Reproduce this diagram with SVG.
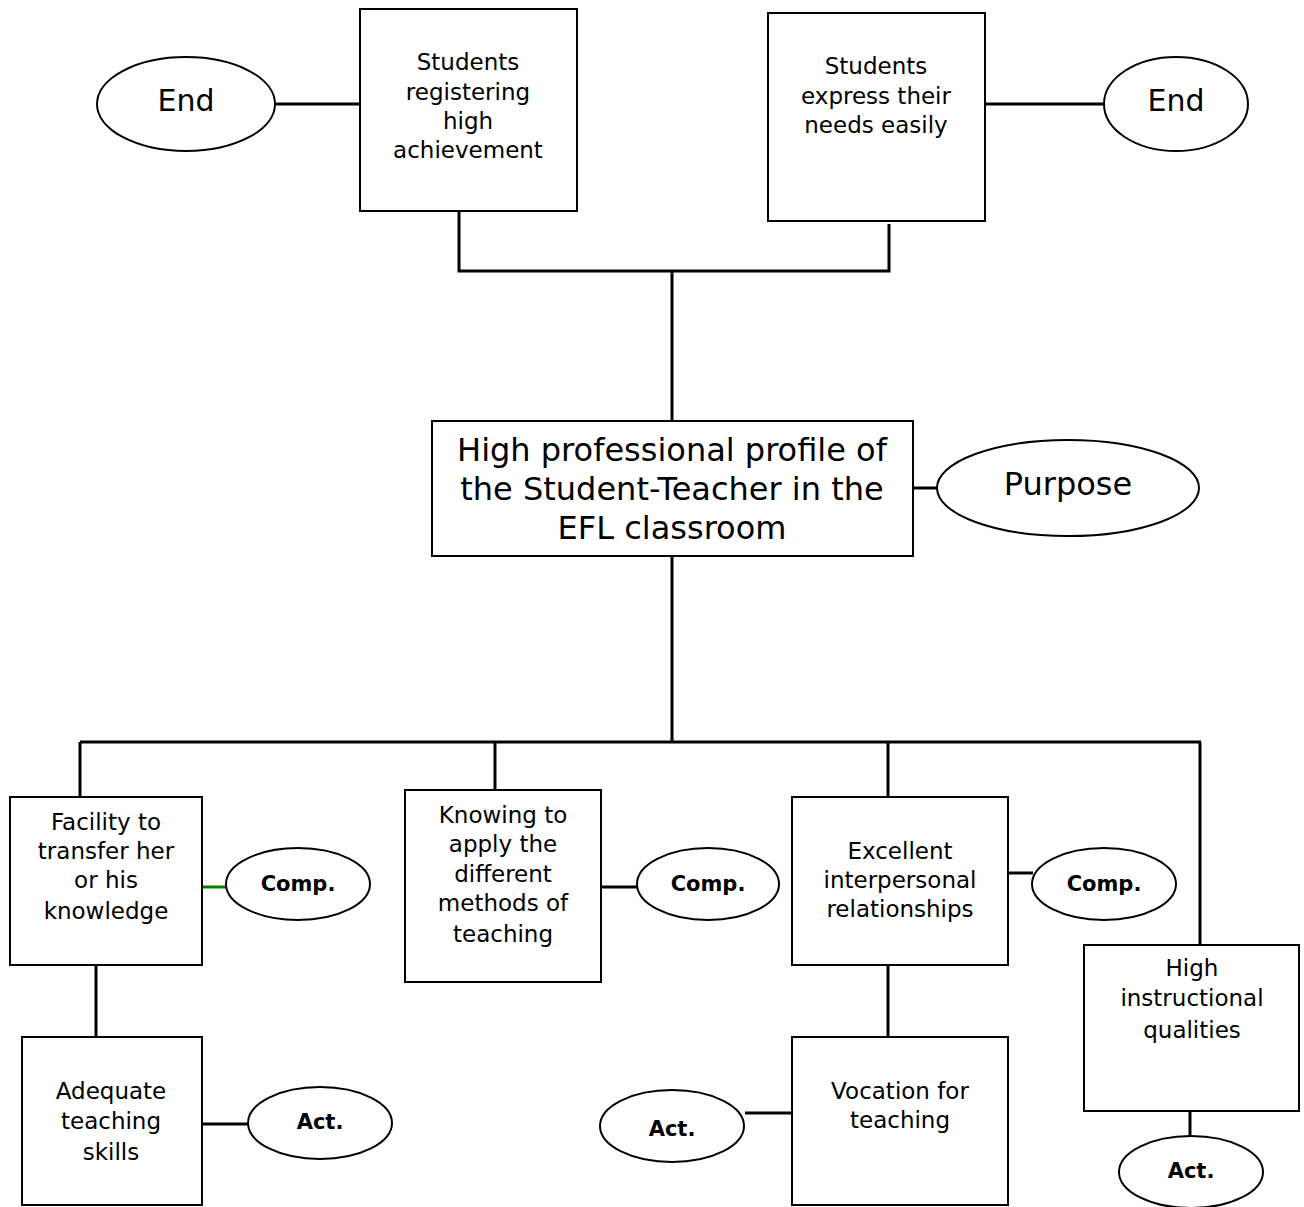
<svg xmlns="http://www.w3.org/2000/svg" width="1304" height="1207" viewBox="0 0 1304 1207">
<style>
.box{fill:#fff;stroke:#000;stroke-width:2}
.ell{fill:#fff;stroke:#000;stroke-width:2}
.ln{fill:none;stroke:#000;stroke-width:3}
.t{font-family:"DejaVu Sans",Verdana,sans-serif;font-size:23px;text-anchor:middle;fill:#000}
.big{font-size:32px}
.end{font-size:30px}
.lab{font-size:21px;font-weight:bold}
</style>
<rect width="1304" height="1207" fill="#fff"/>
<g id="connectors">
<line class="ln" x1="276" y1="104" x2="360" y2="104"/>
<line class="ln" x1="985" y1="104" x2="1104" y2="104"/>
<polyline class="ln" points="459,212 459,271 889,271 889,224"/>
<line class="ln" x1="672" y1="271" x2="672" y2="421"/>
<line class="ln" x1="913" y1="488" x2="937" y2="488"/>
<line class="ln" x1="672" y1="556" x2="672" y2="742"/>
<line class="ln" x1="80" y1="742" x2="1201" y2="742"/>
<line class="ln" x1="80" y1="742" x2="80" y2="797"/>
<line class="ln" x1="495" y1="742" x2="495" y2="790"/>
<line class="ln" x1="888" y1="742" x2="888" y2="797"/>
<line class="ln" x1="1200" y1="742" x2="1200" y2="945"/>
<line x1="202" y1="887" x2="226" y2="887" stroke="#008000" stroke-width="3"/>
<line class="ln" x1="96" y1="965" x2="96" y2="1037"/>
<line class="ln" x1="202" y1="1124" x2="248" y2="1124"/>
<line class="ln" x1="601" y1="887" x2="637" y2="887"/>
<line class="ln" x1="1008" y1="873" x2="1033" y2="873"/>
<line class="ln" x1="888" y1="965" x2="888" y2="1037"/>
<line class="ln" x1="745" y1="1113" x2="792" y2="1113"/>
<line class="ln" x1="1190" y1="1111" x2="1190" y2="1138"/>
</g>
<g id="end-left">
<ellipse class="ell" cx="186" cy="104" rx="89" ry="47"/>
<text class="t end" x="186" y="111">End</text>
</g>
<g id="students-achievement">
<rect class="box" x="360" y="9" width="217" height="202"/>
<text class="t" x="468" y="70">Students</text>
<text class="t" x="468" y="100">registering</text>
<text class="t" x="468" y="129">high</text>
<text class="t" x="468" y="158">achievement</text>
</g>
<g id="students-express">
<rect class="box" x="768" y="13" width="217" height="208"/>
<text class="t" x="876" y="74">Students</text>
<text class="t" x="876" y="104">express their</text>
<text class="t" x="876" y="133">needs easily</text>
</g>
<g id="end-right">
<ellipse class="ell" cx="1176" cy="104" rx="72" ry="47"/>
<text class="t end" x="1176" y="111">End</text>
</g>
<g id="profile">
<rect class="box" x="432" y="421" width="481" height="135"/>
<text class="t big" x="672" y="461">High professional profile of</text>
<text class="t big" x="672" y="500">the Student-Teacher in the</text>
<text class="t big" x="672" y="539">EFL classroom</text>
</g>
<g id="purpose">
<ellipse class="ell" cx="1068" cy="488" rx="131" ry="48"/>
<text class="t big" x="1068" y="495">Purpose</text>
</g>
<g id="facility">
<rect class="box" x="10" y="797" width="192" height="168"/>
<text class="t" x="106" y="830">Facility to</text>
<text class="t" x="106" y="859">transfer her</text>
<text class="t" x="106" y="888">or his</text>
<text class="t" x="106" y="919">knowledge</text>
</g>
<g id="comp1">
<ellipse class="ell" cx="298" cy="884" rx="72" ry="36"/>
<text class="lab t" x="298" y="891">Comp.</text>
</g>
<g id="adequate">
<rect class="box" x="22" y="1037" width="180" height="168"/>
<text class="t" x="111" y="1099">Adequate</text>
<text class="t" x="111" y="1129">teaching</text>
<text class="t" x="111" y="1160">skills</text>
</g>
<g id="act1">
<ellipse class="ell" cx="320" cy="1123" rx="72" ry="36"/>
<text class="lab t" x="320" y="1129">Act.</text>
</g>
<g id="knowing">
<rect class="box" x="405" y="790" width="196" height="192"/>
<text class="t" x="503" y="823">Knowing to</text>
<text class="t" x="503" y="852">apply the</text>
<text class="t" x="503" y="882">different</text>
<text class="t" x="503" y="911">methods of</text>
<text class="t" x="503" y="942">teaching</text>
</g>
<g id="comp2">
<ellipse class="ell" cx="708" cy="884" rx="71" ry="36"/>
<text class="lab t" x="708" y="891">Comp.</text>
</g>
<g id="excellent">
<rect class="box" x="792" y="797" width="216" height="168"/>
<text class="t" x="900" y="859">Excellent</text>
<text class="t" x="900" y="888">interpersonal</text>
<text class="t" x="900" y="917">relationships</text>
</g>
<g id="comp3">
<ellipse class="ell" cx="1104" cy="884" rx="72" ry="36"/>
<text class="lab t" x="1104" y="891">Comp.</text>
</g>
<g id="vocation">
<rect class="box" x="792" y="1037" width="216" height="168"/>
<text class="t" x="900" y="1099">Vocation for</text>
<text class="t" x="900" y="1128">teaching</text>
</g>
<g id="act2">
<ellipse class="ell" cx="672" cy="1126" rx="72" ry="36"/>
<text class="lab t" x="672" y="1136">Act.</text>
</g>
<g id="instructional">
<rect class="box" x="1084" y="945" width="215" height="166"/>
<text class="t" x="1192" y="976">High</text>
<text class="t" x="1192" y="1006">instructional</text>
<text class="t" x="1192" y="1038">qualities</text>
</g>
<g id="act3">
<ellipse class="ell" cx="1191" cy="1172" rx="72" ry="36"/>
<text class="lab t" x="1191" y="1178">Act.</text>
</g>
</svg>
